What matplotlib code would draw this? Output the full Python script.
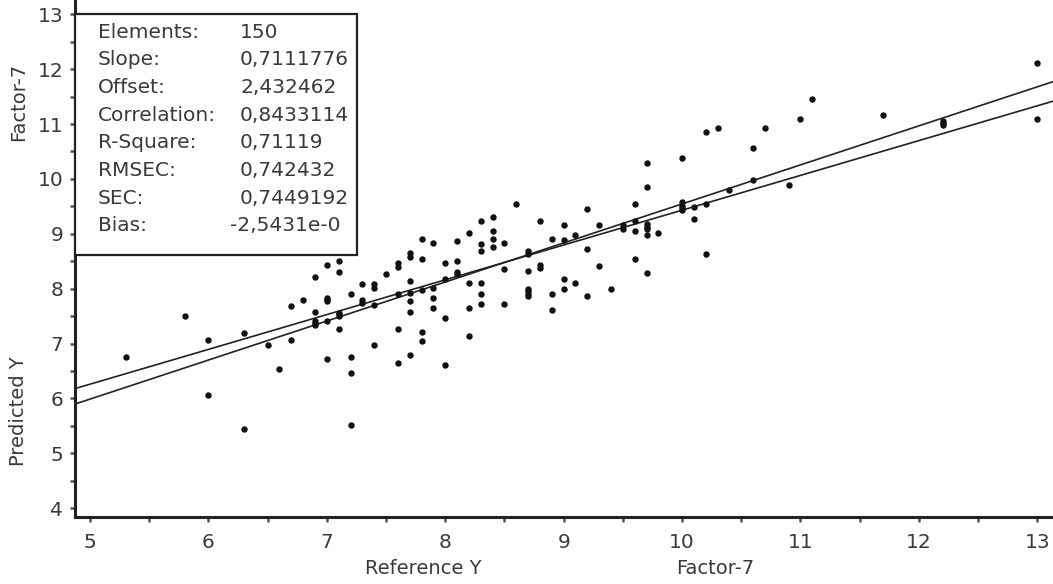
import matplotlib
matplotlib.use("Agg")
import matplotlib.pyplot as plt
from matplotlib.patches import Rectangle
from matplotlib.ticker import MultipleLocator

plt.rcParams["font.family"] = ["DejaVu Sans"]

# reference vs predicted values (calibration samples)
ref_y = [
    5.3, 5.8, 6.0, 6.0, 6.3, 6.3, 6.5, 6.6, 6.7, 6.7,
    6.8, 6.9, 6.9, 6.9, 6.9, 6.9, 7.0, 7.0, 7.0, 7.0,
    7.0, 7.0, 7.1, 7.1, 7.1, 7.1, 7.1, 7.1, 7.2, 7.2,
    7.2, 7.2, 7.3, 7.3, 7.3, 7.4, 7.4, 7.4, 7.4, 7.5,
    7.6, 7.6, 7.6, 7.6, 7.6, 7.7, 7.7, 7.7, 7.7, 7.7,
    7.7, 7.7, 7.8, 7.8, 7.8, 7.8, 7.8, 7.9, 7.9, 7.9,
    7.9, 8.0, 8.0, 8.0, 8.0, 8.1, 8.1, 8.1, 8.1, 8.2,
    8.2, 8.2, 8.2, 8.3, 8.3, 8.3, 8.3, 8.3, 8.3, 8.4,
    8.4, 8.4, 8.4, 8.5, 8.5, 8.5, 8.6, 8.7, 8.7, 8.7,
    8.7, 8.7, 8.7, 8.7, 8.8, 8.8, 8.8, 8.9, 8.9, 8.9,
    9.0, 9.0, 9.0, 9.0, 9.1, 9.1, 9.2, 9.2, 9.2, 9.3,
    9.3, 9.4, 9.5, 9.5, 9.6, 9.6, 9.6, 9.6, 9.7, 9.7,
    9.7, 9.7, 9.7, 9.7, 9.7, 9.8, 10.0, 10.0, 10.0, 10.0,
    10.0, 10.1, 10.1, 10.2, 10.2, 10.2, 10.3, 10.4, 10.6, 10.6,
    10.7, 10.9, 11.0, 11.1, 11.7, 12.2, 12.2, 12.2, 13.0, 13.0,
]
pred_y = [
    6.76, 7.51, 7.07, 6.06, 7.19, 5.45, 6.97, 6.54, 7.07, 7.69,
    7.79, 8.22, 7.58, 7.42, 7.38, 7.33, 8.43, 7.83, 7.80, 7.77,
    7.41, 6.72, 8.50, 8.30, 7.56, 7.53, 7.51, 7.26, 7.90, 6.76,
    6.46, 5.52, 8.08, 7.80, 7.74, 8.08, 8.01, 7.70, 6.97, 8.26,
    8.47, 8.40, 7.90, 7.26, 6.65, 8.65, 8.58, 8.14, 7.93, 7.78,
    7.57, 6.79, 8.91, 8.54, 7.98, 7.21, 7.04, 8.83, 8.02, 7.83,
    7.64, 8.47, 8.18, 7.46, 6.61, 8.87, 8.51, 8.30, 8.26, 9.01,
    8.11, 7.64, 7.14, 9.23, 8.82, 8.68, 8.11, 7.90, 7.72, 9.31,
    9.05, 8.91, 8.76, 8.83, 8.36, 7.72, 9.55, 8.68, 8.64, 8.33,
    8.00, 7.95, 7.91, 7.87, 9.23, 8.43, 8.38, 8.91, 7.90, 7.61,
    9.16, 8.88, 8.18, 8.00, 8.98, 8.11, 9.46, 8.73, 7.86, 9.16,
    8.41, 8.00, 9.16, 9.09, 9.55, 9.24, 9.05, 8.54, 10.29, 9.85,
    9.18, 9.13, 9.09, 8.98, 8.29, 9.01, 10.39, 9.58, 9.51, 9.47,
    9.44, 9.48, 9.27, 10.85, 9.55, 8.63, 10.92, 9.80, 10.56, 9.98,
    10.92, 9.89, 11.10, 11.46, 11.17, 11.05, 11.02, 10.98, 12.12, 11.10,
]

# calibration statistics
stat_names = ["Elements:", "Slope:", "Offset:", "Correlation:", "R-Square:",
              "RMSEC:", "SEC:", "Bias:"]
stat_values = [str(len(ref_y)), "0,7111776", "2,432462", "0,8433114", "0,71119",
               "0,742432", "0,7449192", "-2,5431e-0"]

# regression line (from the statistics) and the second fitted line
slope, offset = 0.7111776, 2.432462
slope2, offset2 = 0.634, 3.09

W, H = 1053, 584
fig = plt.figure(figsize=(W / 100, H / 100), dpi=100)
ax = fig.add_axes([75 / W, 1 - 517 / H, 1 - 75 / W, 517 / H])

xlim = (4.873, 13.133)
ylim = (3.84, 13.26)
ax.set_xlim(*xlim)
ax.set_ylim(*ylim)

ink = "#222222"
txt = "#3a3a3a"

ax.plot(xlim, [offset2 + slope2 * v for v in xlim], color=ink, lw=1.2, zorder=2)
ax.plot(xlim, [offset + slope * v for v in xlim], color=ink, lw=1.2, zorder=2)
ax.plot(ref_y, pred_y, "o", ms=3.6, color="#111111", mec="#111111", zorder=3)

for side in ("top", "right"):
    ax.spines[side].set_visible(False)
for side in ("left", "bottom"):
    ax.spines[side].set_linewidth(2.2)
    ax.spines[side].set_color(ink)

ax.xaxis.set_major_locator(MultipleLocator(1))
ax.xaxis.set_minor_locator(MultipleLocator(0.5))
ax.yaxis.set_major_locator(MultipleLocator(1))
ax.yaxis.set_minor_locator(MultipleLocator(0.5))
ax.tick_params(which="both", direction="out", length=3.5, width=1.8, color="#555555")
ax.tick_params(axis="x", which="major", pad=8, labelsize=14.5, labelcolor=txt)
ax.tick_params(axis="y", which="major", pad=5, labelsize=14.5, labelcolor=txt)

# statistics box in the upper-left corner
box_top = (517 - 14) / 517
box_bot = (517 - 255) / 517
box_right = (357 - 75) / 978
ax.add_patch(Rectangle((0, box_bot), box_right, box_top - box_bot,
                       transform=ax.transAxes, facecolor="white",
                       edgecolor=ink, lw=1.6, zorder=5, clip_on=False))
for i, (name, val) in enumerate(zip(stat_names, stat_values)):
    py = 32 + 27.7 * i
    yy = (517 - py) / 517
    ax.text((98 - 75) / 978, yy, name, transform=ax.transAxes, ha="left",
            va="center", fontsize=14.5, color=txt, zorder=6)
    vx = 230 if val.startswith("-") else 240
    ax.text((vx - 75) / 978, yy, val, transform=ax.transAxes, ha="left",
            va="center", fontsize=14.5, color=txt, zorder=6)

# axis captions
fig.text(18.5 / W, 1 - 411 / H, "Predicted Y", rotation=90, ha="center",
         va="center", fontsize=14, color=txt)
fig.text(18.5 / W, 1 - 102 / H, "Factor-7", rotation=90, ha="center",
         va="center", fontsize=14, color=txt)
fig.text(423 / W, 1 - 568 / H, "Reference Y", ha="center", va="center",
         fontsize=14, color=txt)
fig.text(715 / W, 1 - 568 / H, "Factor-7", ha="center", va="center",
         fontsize=14, color=txt)

fig.savefig("out.png", dpi=100)
